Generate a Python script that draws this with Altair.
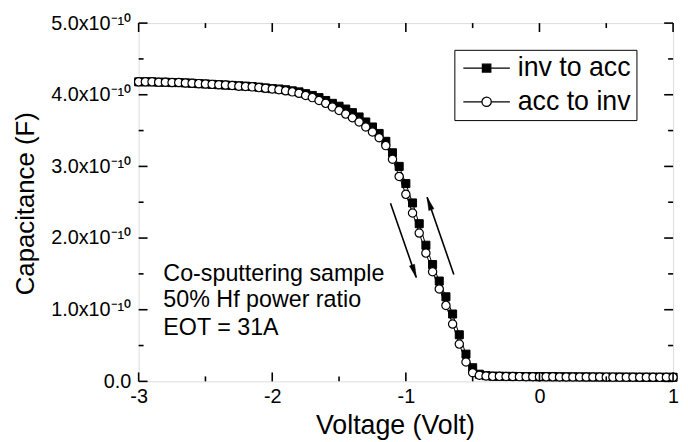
import altair as alt
import pandas as pd

# ---------------- data ----------------
voltage = [-3.00, -2.95, -2.90, -2.85, -2.80, -2.75, -2.70, -2.65, -2.60, -2.55,
           -2.50, -2.45, -2.40, -2.35, -2.30, -2.25, -2.20, -2.15, -2.10, -2.05,
           -2.00, -1.95, -1.90, -1.85, -1.80, -1.75, -1.70, -1.65, -1.60, -1.55,
           -1.50, -1.45, -1.40, -1.35, -1.30, -1.25, -1.20, -1.15, -1.10, -1.05,
           -1.00, -0.95, -0.90, -0.85, -0.80, -0.75, -0.70, -0.65, -0.60, -0.55,
           -0.50, -0.45, -0.40, -0.35, -0.30, -0.25, -0.20, -0.15, -0.10, -0.05,
           0.00, 0.05, 0.10, 0.15, 0.20, 0.25, 0.30, 0.35, 0.40, 0.45,
           0.50, 0.55, 0.60, 0.65, 0.70, 0.75, 0.80, 0.85, 0.90, 0.95, 1.00]

# capacitance in units of 1e-10 F
cap_inv_to_acc = [4.18, 4.18, 4.18, 4.175, 4.175, 4.17, 4.17, 4.165, 4.16, 4.155,
                  4.15, 4.145, 4.14, 4.135, 4.13, 4.125, 4.12, 4.115, 4.105, 4.095,
                  4.085, 4.08, 4.07, 4.055, 4.04, 4.015, 3.99, 3.96, 3.92, 3.88,
                  3.84, 3.80, 3.75, 3.69, 3.62, 3.55, 3.46, 3.35, 3.19, 3.00,
                  2.76, 2.49, 2.20, 1.90, 1.63, 1.40, 1.18, 0.94, 0.65, 0.38,
                  0.19, 0.10, 0.08, 0.072, 0.071, 0.07, 0.069, 0.068, 0.067, 0.066,
                  0.065, 0.065, 0.064, 0.064, 0.063, 0.063, 0.062, 0.062, 0.061, 0.061,
                  0.06, 0.06, 0.06, 0.059, 0.059, 0.058, 0.058, 0.058, 0.057, 0.057, 0.057]

cap_acc_to_inv = [4.18, 4.18, 4.18, 4.175, 4.175, 4.17, 4.17, 4.165, 4.16, 4.155,
                  4.15, 4.145, 4.14, 4.135, 4.13, 4.12, 4.115, 4.11, 4.10, 4.09,
                  4.08, 4.07, 4.055, 4.04, 4.02, 3.99, 3.96, 3.92, 3.88, 3.83,
                  3.78, 3.73, 3.68, 3.62, 3.55, 3.48, 3.40, 3.29, 3.10, 2.86,
                  2.61, 2.35, 2.07, 1.79, 1.53, 1.29, 1.06, 0.80, 0.52, 0.27,
                  0.12, 0.085, 0.075, 0.07, 0.07, 0.068, 0.067, 0.066, 0.065, 0.065,
                  0.064, 0.063, 0.063, 0.062, 0.062, 0.061, 0.061, 0.06, 0.06, 0.06,
                  0.059, 0.059, 0.058, 0.058, 0.058, 0.057, 0.057, 0.057, 0.056, 0.056, 0.056]

series_names = ["inv to acc", "acc to inv"]

x_major = [-3, -2, -1, 0, 1]
x_minor = [-2.5, -1.5, -0.5, 0.5]
y_major = [0, 1, 2, 3, 4, 5]
y_minor = [0.5, 1.5, 2.5, 3.5, 4.5]

note_lines = ["Co-sputtering sample", "50% Hf power ratio", "EOT = 31A"]
note_v = [-2.815, -2.815, -2.815]
note_c = [1.50, 1.13, 0.75]

arrow_v_start = [-1.115, -0.641]
arrow_c_start = [2.486, 1.492]
arrow_v_end = [-0.922, -0.841]
arrow_c_end = [1.450, 2.569]
arrow_angle = [161, 341]

# ---------------- layout / style ----------------
W, H = 540, 362
FONT = "Liberation Sans"
MAJ, MIN = 9, 5

xs = alt.Scale(domain=[-3, 1], nice=False, zero=False)
ys = alt.Scale(domain=[0, 5], nice=False, zero=False)

x_axis = alt.Axis(values=x_major, ticks=False, domain=False, grid=False,
                  labelFontSize=20, labelPadding=5, labelFont=FONT, labelColor="black",
                  labelFlush=False, labelExpr="'' + datum.value",
                  title="Voltage (Volt)", titleFontSize=27, titleFont=FONT,
                  titleFontWeight="normal", titleColor="black",
                  titleX=259, titleY=53, titleBaseline="alphabetic")
y_axis = alt.Axis(values=y_major, ticks=False, domain=False, grid=False,
                  labelFontSize=20, labelPadding=8, labelFont=FONT, labelColor="black",
                  labelFlush=False,
                  labelExpr="datum.value == 0 ? '0.0' : format(datum.value, '.1f') + 'x10\u207b\u00b9\u2070'",
                  title="Capacitance (F)", titleFontSize=26, titleFont=FONT,
                  titleFontWeight="normal", titleColor="black",
                  titleX=-114, titleY=182, titleAngle=270, titleBaseline="middle",
                  titleAlign="center")


def X(field="V"):
    return alt.X(f"{field}:Q", scale=xs, axis=x_axis)


def Y(field="C"):
    return alt.Y(f"{field}:Q", scale=ys, axis=y_axis)


df_sq = pd.DataFrame({"V": voltage, "C": cap_inv_to_acc})
df_ci = pd.DataFrame({"V": voltage, "C": cap_acc_to_inv})

line_sq = alt.Chart(df_sq).mark_line(color="black", strokeWidth=1).encode(x=X(), y=Y())
line_ci = alt.Chart(df_ci).mark_line(color="black", strokeWidth=1).encode(x=X(), y=Y())
pts_sq = alt.Chart(df_sq).mark_point(shape="square", filled=True, fill="black",
                                     stroke="black", strokeWidth=1, size=66,
                                     opacity=1).encode(x=X(), y=Y())
pts_ci = alt.Chart(df_ci).mark_point(shape="circle", filled=True, fill="white",
                                     stroke="black", strokeWidth=1.2, size=70,
                                     opacity=1).encode(x=X(), y=Y())

# ticks (inward, on all four sides)
dx_maj = pd.DataFrame({"V": x_major})
dx_min = pd.DataFrame({"V": x_minor})
dy_maj = pd.DataFrame({"C": y_major})
dy_min = pd.DataFrame({"C": y_minor})
tick_layers = []
for d, L in ((dx_maj, MAJ), (dx_min, MIN)):
    tick_layers.append(alt.Chart(d).mark_rule(color="black", strokeWidth=1.6).encode(
        x=X(), y=alt.value(H), y2=alt.value(H - L)))
    tick_layers.append(alt.Chart(d).mark_rule(color="black", strokeWidth=1.6).encode(
        x=X(), y=alt.value(0), y2=alt.value(L)))
for d, L in ((dy_maj, MAJ), (dy_min, MIN)):
    tick_layers.append(alt.Chart(d).mark_rule(color="black", strokeWidth=1.6).encode(
        y=Y(), x=alt.value(0), x2=alt.value(L)))
    tick_layers.append(alt.Chart(d).mark_rule(color="black", strokeWidth=1.6).encode(
        y=Y(), x=alt.value(W), x2=alt.value(W - L)))

# annotation text
df_note = pd.DataFrame({"V": note_v, "C": note_c, "label": note_lines})
notes = alt.Chart(df_note).mark_text(align="left", baseline="middle", font=FONT,
                                     fontSize=23.5, color="black").encode(
    x=X(), y=Y(), text="label:N")

# arrows
df_arrow = pd.DataFrame({"V": arrow_v_start, "C": arrow_c_start,
                         "V2": arrow_v_end, "C2": arrow_c_end, "ang": arrow_angle})
arrow_lines = alt.Chart(df_arrow).mark_rule(color="black", strokeWidth=1.6).encode(
    x=X(), y=Y(), x2="V2:Q", y2="C2:Q")
df_head = pd.DataFrame({"V": arrow_v_end, "C": arrow_c_end, "ang": arrow_angle})
arrow_heads = alt.Chart(df_head).mark_point(
    shape="M0,0L0.45,2.2L-0.45,2.2Z", filled=True, fill="black", stroke="black",
    strokeWidth=0.5, size=144, opacity=1).encode(
    x=X(), y=Y(), angle=alt.Angle("ang:Q", scale=None))

# legend (from a clipped, off-plot layer so that only the legend shows)
sq_path = "M-1,0H1.05M1.95,0H4M1.05,-0.42H1.95V0.42H1.05Z"
ci_path = "M-1,0H1M2,0H4M1,0A0.5,0.5,0,1,1,2,0A0.5,0.5,0,1,1,1,0Z"
leg = alt.Legend(title=None, orient="none", legendX=319, legendY=27,
                 labelFontSize=27, labelFont=FONT, labelColor="black",
                 symbolSize=353, symbolStrokeWidth=1.3, symbolStrokeColor="black",
                 strokeColor="black", padding=5, rowPadding=6, labelOffset=32,
                 labelLimit=400, symbolOpacity=1)
df_leg = pd.DataFrame({"series": series_names})
legend_layer = alt.Chart(df_leg).mark_point(filled=True, clip=True,
                                            opacity=1).encode(
    x=alt.value(-300), y=alt.value(-300),
    shape=alt.Shape("series:N", scale=alt.Scale(domain=series_names,
                                                 range=[sq_path, ci_path]), legend=leg),
    fill=alt.Fill("series:N", scale=alt.Scale(domain=series_names,
                                               range=["black", "white"]), legend=leg),
    stroke=alt.Stroke("series:N", scale=alt.Scale(domain=series_names,
                                                   range=["black", "black"]), legend=leg))

chart = alt.layer(
    line_sq, line_ci, pts_sq, pts_ci, *tick_layers, notes, arrow_lines, arrow_heads,
    legend_layer
).properties(
    width=W, height=H,
    padding={"left": 132, "top": 13, "right": 7, "bottom": 58},
    autosize=alt.AutoSizeParams(type="none"),
).configure_view(
    stroke="black", strokeWidth=2
).configure(font=FONT, background="white")

chart.save("out.html", embed_options={"renderer": "svg", "actions": False})
